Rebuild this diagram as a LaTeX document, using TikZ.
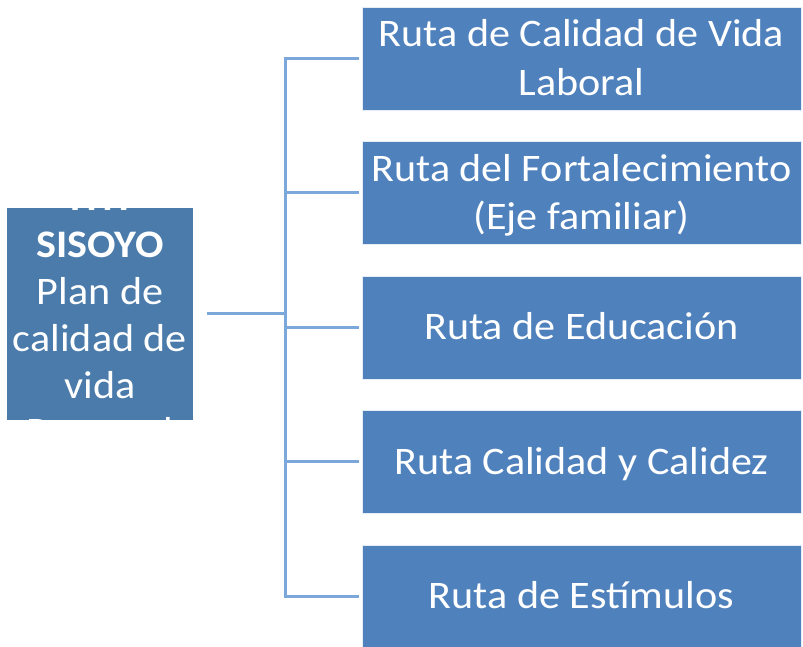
\documentclass[tikz,border=0pt]{standalone}
\usepackage{fontspec}
\setmainfont{Carlito}[FakeStretch=1.08]
\definecolor{boxblue}{HTML}{4F81BD}
\definecolor{leftblue}{HTML}{4A7BAB}
\definecolor{lineblue}{HTML}{7BA7DB}
\begin{document}
\begin{tikzpicture}[x=1pt,y=1pt,
  rbox/.style={rectangle, fill=boxblue, draw=white!85!boxblue, line width=0.8pt,
    minimum width=439pt, minimum height=103pt, inner sep=0pt,
    text=white, font=\fontsize{39}{48.7}\selectfont, align=flush center, text width=439pt},
  one/.style={text height=25pt, text depth=0pt},
  two/.style={text height=25pt, text depth=48.7pt},
  lbox/.style={rectangle, fill=leftblue, minimum width=186pt, minimum height=212pt, inner sep=0pt},
  ltext/.style={text=white, font=\fontsize{39}{46.8}\selectfont, align=flush center, text width=186pt, inner sep=0pt},
  conn/.style={draw=lineblue, line width=3pt}]
\useasboundingbox (0,0) rectangle (803,647);
% right boxes (centres: image y 58.5, 193, 327.5, 462, 596.5)
\node[rbox,two] (b1) at (581.5,588.5) {Ruta de Calidad de Vida\\Laboral};
\node[rbox,two] (b2) at (581.5,454) {Ruta del Fortalecimiento\\(Eje familiar)};
\node[rbox,one] (b3) at (581.5,319.5) {Ruta de Educación};
\node[rbox,one] (b4) at (581.5,185) {Ruta Calidad y Calidez};
\node[rbox,one] (b5) at (581.5,50.5) {Ruta de Estímulos};
% left box
\node[lbox] (L) at (100,333) {};
\begin{scope}
  \clip (L.south west) rectangle (L.north east);
  \node[ltext, anchor=base] (Lt) at (100,436) {\textbf{HTI}\\\textbf{SISOYO}\\Plan de\\calidad de\\vida\\Personal};
\end{scope}
% connectors
\coordinate (j) at (285,333);
\draw[conn, shorten <=14pt] (L.east) -- (j);
\foreach \b in {b1,b2,b3,b4,b5}{
  \draw[conn, shorten >=3pt] (j) |- (\b.west);
}
\end{tikzpicture}
\end{document}
